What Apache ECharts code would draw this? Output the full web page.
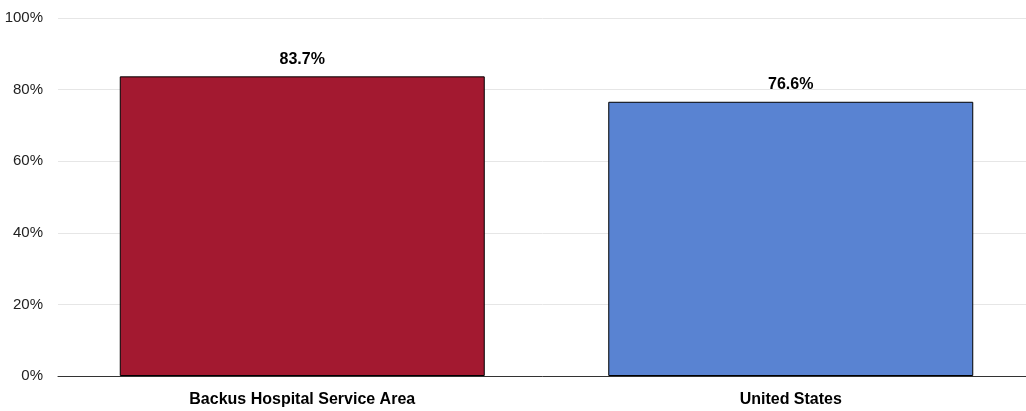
<!DOCTYPE html>
<html><head><meta charset="utf-8">
<script src="https://cdn.jsdelivr.net/npm/echarts@6/dist/echarts.min.js"></script>
<style>html,body{margin:0;padding:0;background:#fff}#c{width:1026px;height:411px}</style>
</head><body><div id="c"></div>
<script>
const categories = ["Backus Hospital Service Area", "United States"];
const values = [83.7, 76.6];
const colors = ["#A31930", "#5983D2"];
const yTicks = [0, 20, 40, 60, 80, 100];
const FONT = '"Liberation Sans", Arial, sans-serif';

const chart = echarts.init(document.getElementById('c'));
chart.setOption({
  animation: false,
  grid: {left: 58, top: 18, right: -9, bottom: 35, containLabel: false, outerBoundsMode: 'none'},
  xAxis: {
    type: 'category', data: categories,
    axisTick: {show: false},
    axisLine: {lineStyle: {color: '#333', width: 1}},
    axisLabel: {color: '#000', fontWeight: 'bold', fontSize: 16, fontFamily: FONT, margin: 16}
  },
  yAxis: {
    type: 'value', min: 0, max: 100, interval: 20,
    axisLabel: {formatter: v => v + '%', color: '#222', fontSize: 15, fontFamily: FONT, margin: 15},
    splitLine: {lineStyle: {color: '#e6e6e6', width: 1}},
    axisLine: {show: false}, axisTick: {show: false}
  },
  series: [{
    type: 'bar', barWidth: 365,
    data: values.map((v, i) => ({value: v, itemStyle: {color: colors[i]}})),
    itemStyle: {borderColor: '#000', borderWidth: 1},
    label: {show: true, position: 'top', formatter: p => p.value.toFixed(1) + '%', color: '#000', fontWeight: 'bold', fontSize: 16, fontFamily: FONT, distance: 9}
  }]
});
</script></body></html>
